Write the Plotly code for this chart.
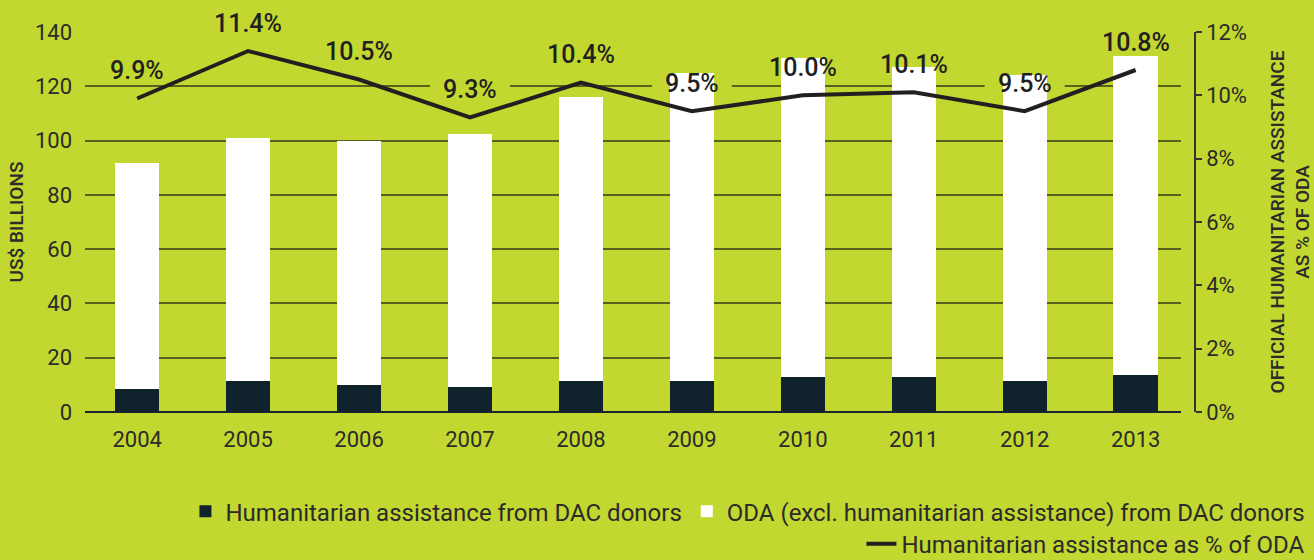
import plotly.graph_objects as go

# ----------------------- data -----------------------
years = [2004, 2005, 2006, 2007, 2008, 2009, 2010, 2011, 2012, 2013]
ha_dac = [8.5, 11.5, 10.1, 9.3, 11.5, 11.5, 13.0, 13.0, 11.5, 13.8]
oda_excl_ha = [83.1, 89.3, 89.9, 93.0, 104.5, 113.5, 117.3, 114.2, 112.7, 117.4]
ha_pct = [9.9, 11.4, 10.5, 9.3, 10.4, 9.5, 10.0, 10.1, 9.5, 10.8]

BG = '#c2d72f'
DARK = '#10222b'
TXT = '#2b2b2b'
FONT = 'Roboto, "Open Sans", sans-serif'

Y1_MAX = 140
Y2_MAX = 12

fig = go.Figure()

fig.add_trace(go.Bar(x=years, y=ha_dac, name='Humanitarian assistance from DAC donors',
                     marker_color=DARK, marker_line_width=0, width=0.4, legend='legend'))
fig.add_trace(go.Bar(x=years, y=oda_excl_ha, name='ODA (excl. humanitarian assistance) from DAC donors',
                     marker_color='#ffffff', marker_line_width=0, width=0.4, legend='legend'))
fig.add_trace(go.Scatter(x=years, y=ha_pct, name='Humanitarian assistance as % of ODA',
                         mode='lines', line=dict(color='#231f20', width=4), yaxis='y2',
                         legend='legend2'))

# value labels; a bg-coloured patch under each one hides the gridline but stays below the bars
for yr, p in zip(years, ha_pct):
    fig.add_shape(type='rect', xref='x', yref='y', xsizemode='pixel', ysizemode='pixel',
                  xanchor=yr, yanchor=p * Y1_MAX / Y2_MAX, x0=-40, x1=40, y0=15, y1=42,
                  fillcolor=BG, line_width=0, layer='between')
    fig.add_annotation(x=yr, y=p, xref='x', yref='y2', text='%.1f%%' % p, showarrow=False,
                       yshift=28, font=dict(size=25, color='#231f20', family=FONT, weight=500))

fig.update_layout(
    width=1314, height=560,
    paper_bgcolor=BG, plot_bgcolor=BG,
    margin=dict(l=85, r=119, t=32, b=148, autoexpand=False),
    barmode='stack',
    font=dict(family=FONT, color=TXT, size=22),
    xaxis=dict(domain=[0, 0.987], range=[2003.53, 2013.405], tickmode='array', tickvals=years,
               showgrid=False, zeroline=False, showline=False, ticks='',
               ticklabelstandoff=12, tickfont=dict(size=22, color=TXT)),
    yaxis=dict(range=[0, Y1_MAX], dtick=20, showgrid=True, gridcolor='#56621d', gridwidth=1.5,
               zeroline=True, zerolinecolor='#1b2430', zerolinewidth=2, showline=False,
               ticks='', ticklabelstandoff=12, tickfont=dict(size=22, color=TXT),
               title=dict(text='US$ BILLIONS', font=dict(size=19, color=TXT, weight=500), standoff=6)),
    yaxis2=dict(range=[0, Y2_MAX], dtick=2, ticksuffix='%', overlaying='y', side='right',
                anchor='free', position=1.0, showgrid=False, zeroline=False,
                showline=True, linecolor='#333333', linewidth=1.5,
                ticks='outside', ticklen=6, tickcolor='#333333', tickwidth=1.5,
                tickfont=dict(size=22, color=TXT),
                title=dict(text='OFFICIAL HUMANITARIAN ASSISTANCE<br>AS % OF ODA',
                           font=dict(size=19, color=TXT, weight=500), standoff=25)),
    legend=dict(orientation='h', x=1.104, xanchor='right', y=-0.262, yanchor='middle',
                bgcolor='rgba(0,0,0,0)', font=dict(size=24, color=TXT), traceorder='normal'),
    legend2=dict(orientation='h', x=1.104, xanchor='right', y=-0.348, yanchor='middle',
                 bgcolor='rgba(0,0,0,0)', font=dict(size=24, color=TXT)),
    showlegend=True,
)

# drop the default 8px page margin so the figure fills the window exactly
fig.write_html("out.html", config={'displayModeBar': False},
               post_script="document.body.style.margin='0';document.body.style.overflow='hidden';")
